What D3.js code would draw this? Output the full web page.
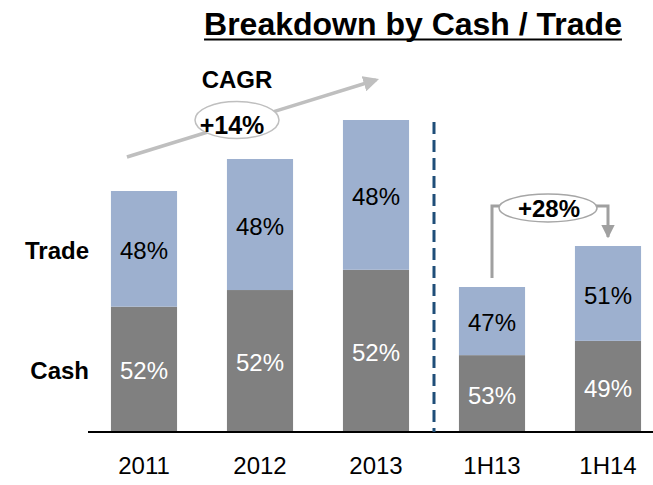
<!DOCTYPE html>
<html>
<head>
<meta charset="utf-8">
<script src="https://cdn.jsdelivr.net/npm/d3@7"></script>
<style>
  html, body { margin: 0; padding: 0; background: #fff; }
  svg { display: block; }
  text { font-family: "Liberation Sans", Arial, Helvetica, sans-serif; }
</style>
</head>
<body>
<svg id="chart" width="653" height="485"></svg>
<script>
// Periods shown on the x axis
const periods = ["2011", "2012", "2013", "1H13", "1H14"];
// Total volume per period (index units)
const totals = [241, 273, 312, 145, 186];
// Share of each period's volume, in percent
const cashShare = [52, 52, 52, 53, 49];
const tradeShare = [48, 48, 48, 47, 51];
// Growth call-outs
const cagrLabel = "+14%";
const halfYearGrowthLabel = "+28%";

const colors = { cash: "#808080", trade: "#9DB0CF" };
const fontStack = '"Liberation Sans", Arial, Helvetica, sans-serif';

const svg = d3.select("#chart");
const baseY = 432;

const x = d3.scaleBand()
  .domain(periods)
  .range([86, 666])
  .paddingInner(0.43)
  .paddingOuter(0.215);

const y = d3.scaleLinear()
  .domain([0, 320])
  .range([baseY, baseY - 320]);

const rows = periods.map((p, i) => {
  const cash = totals[i] * cashShare[i] / 100;
  return { period: p, total: totals[i], cash, cashPct: cashShare[i], tradePct: tradeShare[i] };
});

// Stacked bars: cash at the bottom, trade on top
const g = svg.append("g");
g.selectAll("rect.cash").data(rows).join("rect")
  .attr("class", "cash")
  .attr("x", d => x(d.period))
  .attr("width", x.bandwidth())
  .attr("y", d => y(d.cash))
  .attr("height", d => y(0) - y(d.cash))
  .attr("fill", colors.cash);

g.selectAll("rect.trade").data(rows).join("rect")
  .attr("class", "trade")
  .attr("x", d => x(d.period))
  .attr("width", x.bandwidth())
  .attr("y", d => y(d.total))
  .attr("height", d => y(d.cash) - y(d.total))
  .attr("fill", colors.trade);

// Percentage labels centred in each segment
const capOffset = 24 * 0.358 + 1.5;
g.selectAll("text.cashPct").data(rows).join("text")
  .attr("x", d => x(d.period) + x.bandwidth() / 2)
  .attr("y", d => (y(0) + y(d.cash)) / 2 + capOffset)
  .attr("text-anchor", "middle")
  .attr("font-size", 24)
  .attr("fill", "#ffffff")
  .text(d => d.cashPct + "%");

g.selectAll("text.tradePct").data(rows).join("text")
  .attr("x", d => x(d.period) + x.bandwidth() / 2)
  .attr("y", d => (y(d.cash) + y(d.total)) / 2 + capOffset)
  .attr("text-anchor", "middle")
  .attr("font-size", 24)
  .attr("fill", "#000000")
  .text(d => d.tradePct + "%");

// Baseline and category axis
const xAxis = d3.axisBottom(x).tickSize(0).tickPadding(0);
const axisG = svg.append("g")
  .attr("transform", `translate(0,${baseY})`)
  .call(xAxis);
axisG.select(".domain").remove();
axisG.selectAll("text")
  .attr("font-size", 24)
  .attr("font-family", fontStack)
  .attr("fill", "#000")
  .attr("dy", null)
  .attr("y", 42);
svg.append("line")
  .attr("x1", 88).attr("x2", 653)
  .attr("y1", baseY).attr("y2", baseY)
  .attr("stroke", "#000").attr("stroke-width", 2);

// Divider between full-year and half-year periods
const divX = (x("2013") + x.bandwidth() + x("1H13")) / 2;
svg.append("line")
  .attr("x1", divX).attr("x2", divX)
  .attr("y1", y(312) + 2).attr("y2", baseY)
  .attr("stroke", "#1F4E79")
  .attr("stroke-width", 3)
  .attr("stroke-dasharray", "12,6");

// Series names on the left
svg.append("text")
  .attr("x", 89).attr("y", (y(rows[0].cash) + y(rows[0].total)) / 2 + 10)
  .attr("text-anchor", "end")
  .attr("font-size", 24).attr("font-weight", "bold")
  .text("Trade");
svg.append("text")
  .attr("x", 89).attr("y", (y(0) + y(rows[0].cash)) / 2 + 10)
  .attr("text-anchor", "end")
  .attr("font-size", 24).attr("font-weight", "bold")
  .text("Cash");

// Title with underline
const title = svg.append("text")
  .attr("x", 413).attr("y", 35)
  .attr("text-anchor", "middle")
  .attr("font-size", 32).attr("font-weight", "bold")
  .text("Breakdown by Cash / Trade");
const tw = title.node().getComputedTextLength();
svg.append("line")
  .attr("x1", 413 - tw / 2).attr("x2", 413 + tw / 2)
  .attr("y1", 39.5).attr("y2", 39.5)
  .attr("stroke", "#000").attr("stroke-width", 2);

// Arrow markers
const defs = svg.append("defs");
defs.append("marker")
  .attr("id", "headLight")
  .attr("viewBox", "0 0 10 10")
  .attr("refX", 8).attr("refY", 5)
  .attr("markerWidth", 4.5).attr("markerHeight", 4.5)
  .attr("markerUnits", "strokeWidth")
  .attr("orient", "auto")
  .append("path").attr("d", "M0,0 L10,5 L0,10 z").attr("fill", "#BFBFBF");
defs.append("marker")
  .attr("id", "headDark")
  .attr("viewBox", "0 0 10 10")
  .attr("refX", 9).attr("refY", 5)
  .attr("markerWidth", 4.5).attr("markerHeight", 4.5)
  .attr("markerUnits", "strokeWidth")
  .attr("orient", "auto")
  .append("path").attr("d", "M0,0 L10,5 L0,10 z").attr("fill", "#A0A0A0");

// CAGR arrow across the full years
const cx0 = x("2011") + 16, cy0 = y(totals[0]) - 34;
const cx1 = x("2013") + x.bandwidth() / 2, cy1 = y(totals[2]) - 40;
svg.append("line")
  .attr("x1", cx0).attr("y1", cy0)
  .attr("x2", cx1).attr("y2", cy1)
  .attr("stroke", "#BFBFBF").attr("stroke-width", 3.5)
  .attr("marker-end", "url(#headLight)");

svg.append("text")
  .attr("x", 237).attr("y", 88)
  .attr("text-anchor", "middle")
  .attr("font-size", 24).attr("font-weight", "bold")
  .text("CAGR");
svg.append("ellipse")
  .attr("cx", 237).attr("cy", 120).attr("rx", 42).attr("ry", 18.5)
  .attr("fill", "#fff").attr("stroke", "#BFBFBF").attr("stroke-width", 1.5);
svg.append("text")
  .attr("x", 232).attr("y", 134)
  .attr("text-anchor", "middle")
  .attr("font-size", 25).attr("font-weight", "bold")
  .text(cagrLabel);

// Half-year growth connector
const lx = x("1H13") + x.bandwidth() / 2;
const rx = x("1H14") + x.bandwidth() / 2;
const connY = 206;
svg.append("path")
  .attr("d", `M${lx},${y(totals[3]) - 9} V${connY} H${rx} V${y(totals[4]) - 9}`)
  .attr("fill", "none")
  .attr("stroke", "#A0A0A0").attr("stroke-width", 3)
  .attr("marker-end", "url(#headDark)");
svg.append("ellipse")
  .attr("cx", 548).attr("cy", 208).attr("rx", 49).attr("ry", 14)
  .attr("fill", "#fff").attr("stroke", "#A6A6A6").attr("stroke-width", 1.5);
svg.append("text")
  .attr("x", 549).attr("y", 217)
  .attr("text-anchor", "middle")
  .attr("font-size", 24).attr("font-weight", "bold")
  .text(halfYearGrowthLabel);
</script>
</body>
</html>
